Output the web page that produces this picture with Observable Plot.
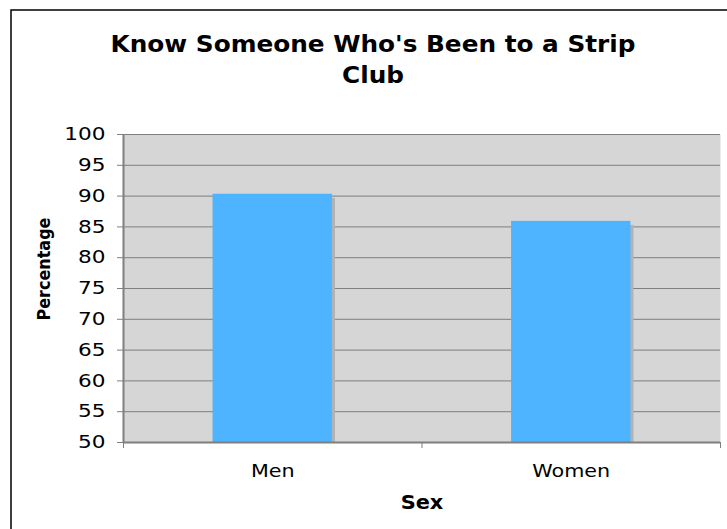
<!DOCTYPE html>
<html>
<head>
<meta charset="utf-8">
<script src="https://cdn.jsdelivr.net/npm/d3@7"></script>
<script src="https://cdn.jsdelivr.net/npm/@observablehq/plot@0.6"></script>
<style>
  html, body { margin: 0; padding: 0; background: #fff; }
  #chart { width: 727px; height: 529px; }
  svg { font-family: "DejaVu Sans", Verdana, sans-serif; }
</style>
</head>
<body>
<div id="chart"></div>
<script>
const categories = ["Men", "Women"];
const values = [90.3, 85.9];
const yTicks = [50, 55, 60, 65, 70, 75, 80, 85, 90, 95, 100];
const titleLines = ["Know Someone Who's Been to a Strip", "Club"];
const xTitle = "Sex";
const yTitle = "Percentage";

const data = categories.map((c, i) => ({cat: c, i, value: values[i]}));
const catCenters = categories.map((c, i) => i + 0.5);
const catBounds = d3.range(categories.length + 1);

const plot = Plot.plot({
  width: 727,
  height: 529,
  marginLeft: 123,
  marginRight: 7,
  marginTop: 134,
  marginBottom: 87,
  style: {fontFamily: "DejaVu Sans, Verdana, sans-serif", fontSize: "18px", color: "#000", background: "transparent"},
  x: {type: "linear", domain: [0, categories.length]},
  y: {domain: [50, 100]},
  marks: [
    Plot.frame({fill: "#d6d6d6", stroke: null}),
    Plot.gridY(yTicks, {stroke: "#7f7f7f", strokeOpacity: 1, strokeWidth: 1}),
    Plot.rectY(data, {x1: d => d.i + 0.3, x2: d => d.i + 0.7, y1: 50, y2: "value", fill: "#b2b2b2", dx: 3, dy: 4, clip: "frame"}),
    Plot.rectY(data, {x1: d => d.i + 0.3, x2: d => d.i + 0.7, y1: 50, y2: "value", fill: "#4fb4ff"}),
    Plot.axisY(yTicks, {anchor: "left", tickSize: 6, tickPadding: 12, stroke: "#7f7f7f", fill: "#000", fontSize: 18, label: null}),
    Plot.ruleX([0], {stroke: "#7f7f7f", strokeWidth: 2}),
    Plot.ruleY([50], {stroke: "#7f7f7f", strokeWidth: 2}),
    Plot.axisX(catBounds, {anchor: "bottom", tickSize: 6, stroke: "#7f7f7f", tickFormat: () => "", label: null}),
    Plot.axisX(catCenters, {anchor: "bottom", tickSize: 0, tickPadding: 22, fill: "#000", fontSize: 18, tickFormat: d => categories[Math.floor(d)], label: null})
  ]
});

const svg = d3.select(plot);

// the reference text is rendered slightly wider than DejaVu Sans: stretch horizontally around each anchor
function stretch(sel, sx) {
  sel.each(function() {
    const t = d3.select(this);
    const tr = t.attr("transform");
    if (tr) t.attr("transform", tr + ` scale(${sx},1)`);
    else {
      const x = +t.attr("x") || 0, y = +t.attr("y") || 0;
      t.attr("x", null).attr("y", null).attr("transform", `translate(${x},${y}) scale(${sx},1)`);
    }
  });
}
stretch(svg.selectAll('g[aria-label="y-axis tick label"] text'), 1.2);
stretch(svg.selectAll('g[aria-label="x-axis tick label"] text'), 1.15);

// outer border
svg.insert("rect", ":first-child")
  .attr("x", 11).attr("y", 10).attr("width", 740).attr("height", 540)
  .attr("fill", "none").attr("stroke", "#000").attr("stroke-width", 1.5);
// title
titleLines.forEach((t, k) => {
  svg.append("text")
    .attr("transform", `translate(373,${52 + k * 31}) scale(1.1,1)`)
    .attr("text-anchor", "middle")
    .attr("font-weight", "bold")
    .attr("font-size", 22.5)
    .attr("fill", "#000")
    .text(t);
});
// axis titles
svg.append("text")
  .attr("transform", "translate(422,509) scale(1.1,1)")
  .attr("text-anchor", "middle").attr("font-weight", "bold").attr("font-size", 19).attr("fill", "#000")
  .text(xTitle);
svg.append("text")
  .attr("transform", "translate(50,269) rotate(-90) scale(1,1.15)")
  .attr("text-anchor", "middle").attr("font-weight", "bold").attr("font-size", 16).attr("fill", "#000")
  .text(yTitle);

document.getElementById("chart").appendChild(plot);
</script>
</body>
</html>
